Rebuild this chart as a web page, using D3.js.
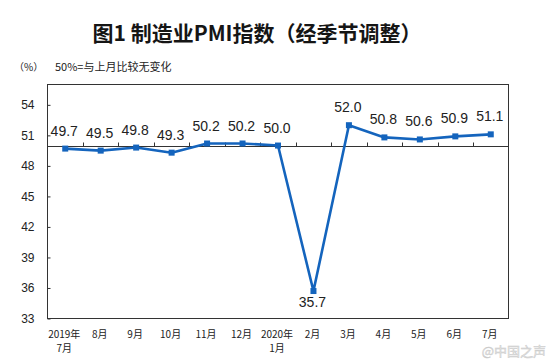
<!DOCTYPE html>
<html><head><meta charset="utf-8">
<script src="https://cdn.jsdelivr.net/npm/d3@7"></script>
<style>
body{margin:0;background:#fff;}
svg{display:block;}
</style></head>
<body>
<svg id="chart" width="553" height="362"></svg>
<script>
const categories = ["2019年|7月","8月","9月","10月","11月","12月","2020年|1月","2月","3月","4月","5月","6月","7月"];
const pmi = [49.7, 49.5, 49.8, 49.3, 50.2, 50.2, 50.0, 35.7, 52.0, 50.8, 50.6, 50.9, 51.1];
const yTicks = [33, 36, 39, 42, 45, 48, 51, 54];
const yDomain = [33, 56];
const baseline = 50;
const title = "图1  制造业PMI指数（经季节调整）";
const unitLabel = "（%）";
const note = "50%=与上月比较无变化";
const watermark = "@中国之声";

(function(){
const svg = d3.select("#chart");
const mL = 47.5, mR = 508.5, mT = 84.5, mB = 318.5;
const blue = "#1464bd";
const cjk = "'Noto Sans CJK SC', 'Noto Sans', sans-serif";
const narrow = "'Liberation Sans Narrow', 'Liberation Sans', sans-serif";

const x = d3.scaleBand().domain(categories).range([mL, mR]).padding(0);
const y = d3.scaleLinear().domain(yDomain).range([mB, mT]);

// title
svg.append("text").attr("x", 257).attr("y", 41).attr("text-anchor", "middle")
  .attr("font-family", cjk).attr("font-size", 21).attr("font-weight", "bold").attr("fill", "#151515")
  .text(title);
svg.append("text").attr("x", 14).attr("y", 71).attr("font-family", cjk).attr("font-size", 10).attr("fill", "#222").text(unitLabel);
svg.append("text").attr("x", 55).attr("y", 71).attr("font-family", cjk).attr("font-size", 11).attr("fill", "#222").text(note);

// plot frame
svg.append("rect").attr("x", mL).attr("y", mT).attr("width", mR - mL).attr("height", mB - mT)
  .attr("fill", "none").attr("stroke", "#333").attr("stroke-width", 1);

// y axis
const yAxis = d3.axisLeft(y).tickValues(yTicks).tickSize(-3).tickPadding(13).tickFormat(d3.format("d"));
const gy = svg.append("g").attr("transform", `translate(${mL},0)`).call(yAxis);
gy.select(".domain").remove();
gy.selectAll(".tick line").attr("stroke", "#333");
gy.selectAll(".tick text").attr("font-family", narrow).attr("font-size", 12).attr("fill", "#222");

// baseline axis at 50 with upward ticks at band boundaries
const by = Math.round(y(baseline)) + 0.5;
svg.append("line").attr("x1", mL).attr("x2", mR).attr("y1", by).attr("y2", by).attr("stroke", "#333").attr("stroke-width", 1);
svg.append("g").selectAll("line").data(categories.slice(1)).join("line")
  .attr("x1", d => Math.round(x(d)) + 0.5).attr("x2", d => Math.round(x(d)) + 0.5)
  .attr("y1", by).attr("y2", by - 4).attr("stroke", "#333");

// x labels (one text element per line)
const gx = svg.append("g");
categories.forEach(c => {
  c.split("|").forEach((p, i) => {
    gx.append("text").attr("x", x(c) + x.bandwidth() / 2 - 1).attr("y", 337.5 + i * 14.5)
      .attr("text-anchor", "middle").attr("font-family", cjk).attr("font-size", 10).attr("fill", "#222")
      .text(p);
  });
});

// line
const cx = d => x(d) + x.bandwidth() / 2;
const data = categories.map((c, i) => ({c, v: pmi[i]}));
svg.append("path").datum(data)
  .attr("d", d3.line().x(d => cx(d.c)).y(d => y(d.v)))
  .attr("fill", "none").attr("stroke", blue).attr("stroke-width", 2.6).attr("stroke-linejoin", "round");
svg.append("g").selectAll("rect").data(data).join("rect")
  .attr("x", d => cx(d.c) - 3).attr("y", d => y(d.v) - 3).attr("width", 6).attr("height", 6).attr("fill", blue);

// value labels
const minV = d3.min(pmi);
svg.append("g").selectAll("text").data(data).join("text")
  .attr("x", d => cx(d.c) - 1)
  .attr("y", d => d.v === minV ? y(d.v) + 16 : y(d.v) - 13)
  .attr("text-anchor", "middle").attr("font-family", "'Liberation Sans', Arial, sans-serif")
  .attr("font-size", 14).attr("fill", "#222")
  .text(d => d3.format(".1f")(d.v));

// watermark
svg.append("text").attr("x", 546).attr("y", 356).attr("text-anchor", "end")
  .attr("font-family", cjk).attr("font-size", 13).attr("fill", "#e4e4e4").attr("stroke", "#c8c8c8").attr("stroke-width", 0.4)
  .text(watermark);
})();
</script>
</body></html>
